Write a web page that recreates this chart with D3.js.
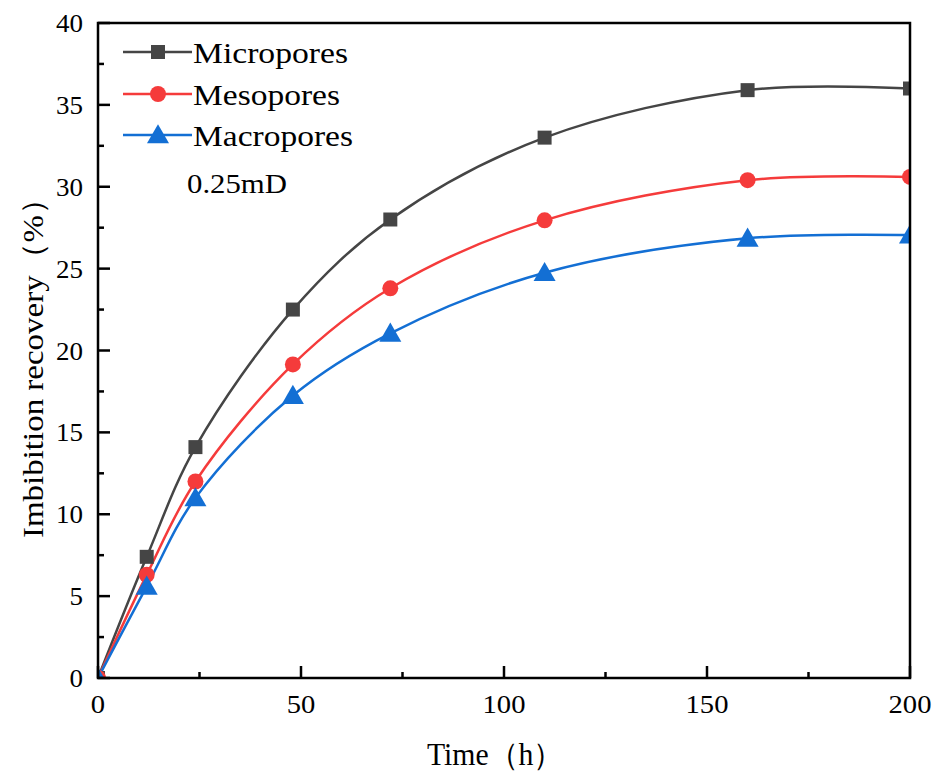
<!DOCTYPE html>
<html><head><meta charset="utf-8">
<script src="https://cdn.jsdelivr.net/npm/d3@7"></script>
<style>body{margin:0;background:#fff}svg{display:block}text{font-family:"Liberation Serif","Times New Roman",serif;fill:#000}</style>
</head><body>
<script>
const times = [0, 12, 24, 48, 72, 110, 160, 200];
const micropores = [0, 7.4, 14.1, 22.5, 28.0, 33.0, 35.9, 36.0];
const mesopores = [0, 6.3, 12.0, 19.15, 23.8, 27.95, 30.4, 30.6];
const macropores = [0, 5.6, 11.0, 17.25, 21.05, 24.75, 26.85, 27.05];
const seriesNames = ["Micropores", "Mesopores", "Macropores"];
const xTicks = [0, 50, 100, 150, 200];
const yTicks = [0, 5, 10, 15, 20, 25, 30, 35, 40];
const annotation = "0.25mD";

const W = 941, H = 774;
const m = {l: 98, r: 31, t: 23, b: 96};
const svg = d3.select("body").append("svg").attr("width", W).attr("height", H);
const x = d3.scaleLinear().domain([0, 200]).range([m.l, W - m.r]);
const y = d3.scaleLinear().domain([0, 40]).range([H - m.b, m.t]);

const colors = ["#454545", "#f53b3b", "#136fd4"];
const data = [micropores, mesopores, macropores];
const shapes = [d3.symbolSquare, d3.symbolCircle, d3.symbolTriangle];
const sizes = [196, 200, 210];

svg.append("clipPath").attr("id", "plot").append("rect")
  .attr("x", m.l).attr("y", m.t).attr("width", W - m.r - m.l).attr("height", H - m.b - m.t);

// lines
const plot = svg.append("g").attr("clip-path", "url(#plot)");
const line = d3.line().x((d, i) => x(times[i])).y(d => y(d)).curve(d3.curveCatmullRom.alpha(0.5));
data.forEach((s, k) => {
  plot.append("path").attr("d", line(s)).attr("fill", "none").attr("stroke", colors[k]).attr("stroke-width", 2.5);
});
data.forEach((s, k) => {
  plot.append("g").selectAll("path").data(s).join("path")
    .attr("transform", (d, i) => `translate(${x(times[i])},${y(d) + (k === 2 ? 2 : 0)})`)
    .attr("d", d3.symbol().type(shapes[k]).size(sizes[k])).attr("fill", colors[k]);
});

// frame
svg.append("rect").attr("x", m.l).attr("y", m.t).attr("width", W - m.r - m.l).attr("height", H - m.b - m.t)
  .attr("fill", "none").attr("stroke", "#000").attr("stroke-width", 2.5);

// x axis ticks (inward)
const gx = svg.append("g");
d3.range(0, 201, 25).forEach(v => {
  const major = v % 50 === 0;
  gx.append("line").attr("x1", x(v)).attr("x2", x(v)).attr("y1", y(0)).attr("y2", y(0) - (major ? 12 : 6))
    .attr("stroke", "#000").attr("stroke-width", 2.5);
});
xTicks.forEach(v => {
  gx.append("text").attr("x", x(v)).attr("y", y(0) + 35).attr("text-anchor", "middle").attr("font-size", 26)
    .attr("textLength", String(v).length * 14.3).attr("lengthAdjust", "spacingAndGlyphs").text(v);
});
// y axis ticks
const gy = svg.append("g");
d3.range(0, 40.01, 2.5).forEach(v => {
  const major = v % 5 === 0;
  gy.append("line").attr("x1", x(0)).attr("x2", x(0) + (major ? 12 : 6)).attr("y1", y(v)).attr("y2", y(v))
    .attr("stroke", "#000").attr("stroke-width", 2.5);
});
yTicks.forEach(v => {
  gy.append("text").attr("x", x(0) - 15).attr("y", y(v) + 9).attr("text-anchor", "end").attr("font-size", 26)
    .attr("textLength", String(v).length * 13.5).attr("lengthAdjust", "spacingAndGlyphs").text(v);
});

// axis titles
svg.append("text").attr("x", 495).attr("y", 765).attr("text-anchor", "middle").attr("font-size", 31)
  .attr("textLength", 136).attr("lengthAdjust", "spacingAndGlyphs").text("Time（h）");
svg.append("text").attr("transform", "translate(43,360) rotate(-90)").attr("text-anchor", "middle")
  .attr("font-size", 30).attr("textLength", 356).attr("lengthAdjust", "spacingAndGlyphs").text("Imbibition recovery（%）");

// legend
const legY = [52, 94, 135];
const legW = [155, 147, 160];
seriesNames.forEach((n, k) => {
  const g = svg.append("g");
  g.append("line").attr("x1", 123).attr("x2", 192).attr("y1", legY[k]).attr("y2", legY[k]).attr("stroke", colors[k]).attr("stroke-width", 2.5);
  g.append("path").attr("transform", `translate(158,${legY[k] + (k === 2 ? 2 : 0)})`).attr("d", d3.symbol().type(shapes[k]).size(sizes[k])).attr("fill", colors[k]);
  g.append("text").attr("x", 193).attr("y", legY[k] + 11).attr("font-size", 30)
    .attr("textLength", legW[k]).attr("lengthAdjust", "spacingAndGlyphs").text(n);
});
svg.append("text").attr("x", 187).attr("y", 193).attr("font-size", 27)
  .attr("textLength", 100).attr("lengthAdjust", "spacingAndGlyphs").text(annotation);
</script>
</body></html>
